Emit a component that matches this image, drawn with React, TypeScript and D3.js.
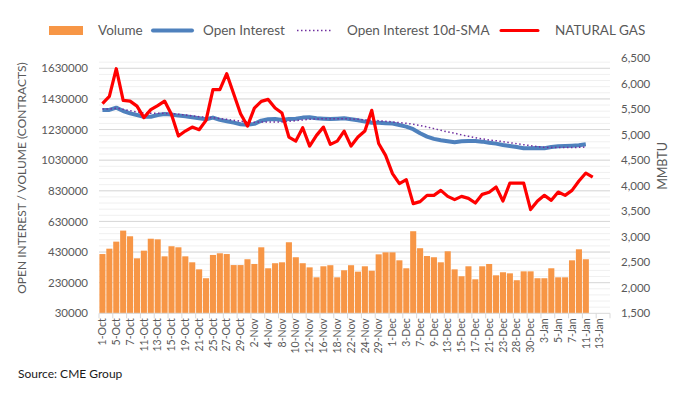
import React, { useEffect, useRef } from 'react';
import * as d3 from 'd3';

// trading days on the category axis (labels shown every other day)
const dates = [
  '1-Oct', '4-Oct', '5-Oct', '6-Oct', '7-Oct', '8-Oct', '11-Oct', '12-Oct', '13-Oct', '14-Oct',
  '15-Oct', '18-Oct', '19-Oct', '20-Oct', '21-Oct', '22-Oct', '25-Oct', '26-Oct', '27-Oct', '28-Oct',
  '29-Oct', '1-Nov', '2-Nov', '3-Nov', '4-Nov', '5-Nov', '8-Nov', '9-Nov', '10-Nov', '11-Nov',
  '12-Nov', '15-Nov', '16-Nov', '17-Nov', '18-Nov', '19-Nov', '22-Nov', '23-Nov', '24-Nov', '26-Nov',
  '29-Nov', '30-Nov', '1-Dec', '2-Dec', '3-Dec', '6-Dec', '7-Dec', '8-Dec', '9-Dec', '10-Dec',
  '13-Dec', '14-Dec', '15-Dec', '16-Dec', '17-Dec', '20-Dec', '21-Dec', '22-Dec', '23-Dec', '27-Dec',
  '28-Dec', '29-Dec', '30-Dec', '31-Dec', '3-Jan', '4-Jan', '5-Jan', '6-Jan', '7-Jan', '10-Jan',
  '11-Jan', '12-Jan', '13-Jan', '14-Jan',
];

const volume = [
  417000, 452000, 498000, 570000, 533000, 389000, 439000, 517000, 513000, 402000,
  468000, 461000, 402000, 363000, 317000, 259000, 411000, 422000, 417000, 345000,
  345000, 383000, 352000, 461000, 324000, 357000, 363000, 494000, 396000, 357000,
  330000, 265000, 337000, 344000, 265000, 311000, 344000, 302000, 337000, 308000,
  415000, 428000, 428000, 376000, 324000, 566000, 455000, 404000, 396000, 363000,
  435000, 317000, 272000, 337000, 252000, 337000, 352000, 278000, 298000, 291000,
  246000, 304000, 304000, 259000, 259000, 324000, 265000, 265000, 376000, 448000,
  383000,
];

const openInterest = [
  1358000, 1358000, 1373000, 1351000, 1336000, 1325000, 1314000, 1314000, 1325000, 1332000,
  1328000, 1321000, 1317000, 1310000, 1304000, 1297000, 1308000, 1293000, 1284000, 1275000,
  1265000, 1262000, 1267000, 1288000, 1297000, 1299000, 1293000, 1299000, 1301000, 1308000,
  1310000, 1304000, 1301000, 1299000, 1301000, 1304000, 1297000, 1291000, 1282000, 1275000,
  1275000, 1271000, 1269000, 1260000, 1249000, 1232000, 1206000, 1184000, 1169000, 1160000,
  1153000, 1147000, 1153000, 1155000, 1155000, 1151000, 1144000, 1138000, 1129000, 1123000,
  1116000, 1108000, 1108000, 1110000, 1108000, 1116000, 1121000, 1123000, 1125000, 1127000,
  1134000,
];

const oiSma = [
  1364000, 1364000, 1369000, 1362000, 1353000, 1345000, 1338000, 1336000, 1336000, 1336000,
  1334000, 1330000, 1325000, 1319000, 1314000, 1310000, 1308000, 1301000, 1297000, 1291000,
  1284000, 1280000, 1278000, 1280000, 1280000, 1280000, 1280000, 1284000, 1288000, 1293000,
  1297000, 1299000, 1301000, 1301000, 1301000, 1301000, 1299000, 1297000, 1293000, 1291000,
  1288000, 1284000, 1280000, 1275000, 1271000, 1265000, 1256000, 1247000, 1236000, 1225000,
  1214000, 1206000, 1195000, 1186000, 1177000, 1169000, 1162000, 1157000, 1151000, 1144000,
  1138000, 1131000, 1125000, 1118000, 1114000, 1112000, 1112000, 1112000, 1112000, 1114000,
  1116000,
];

const natGas = [
  5610, 5753, 6296, 5675, 5661, 5563, 5336, 5493, 5571, 5661,
  5400, 4975, 5073, 5151, 5100, 5283, 5884, 5884, 6198, 5806,
  5414, 5171, 5524, 5655, 5694, 5524, 5426, 4956, 4877, 5139,
  4779, 4989, 5151, 4812, 4877, 5073, 4779, 4956, 5073, 5479,
  4830, 4597, 4238, 4042, 4120, 3650, 3689, 3813, 3813, 3911,
  3793, 3728, 3793, 3754, 3662, 3832, 3872, 3976, 3701, 4054,
  4054, 4054, 3533, 3701, 3813, 3715, 3878, 3813, 3911, 4093,
  4250, 4172,
];

const leftTicks = [30000, 230000, 430000, 630000, 830000, 1030000, 1230000, 1430000, 1630000];
const rightTicks = [1500, 2000, 2500, 3000, 3500, 4000, 4500, 5000, 5500, 6000, 6500];

const legendItems = [
  { label: 'Volume', kind: 'bar' },
  { label: 'Open Interest', kind: 'oi' },
  { label: 'Open Interest 10d-SMA', kind: 'sma' },
  { label: 'NATURAL GAS', kind: 'ng' },
];

const FONT = 'Lato, "Open Sans", sans-serif';
const TEXT = '#595959';

const Chart = () => {
  const svgRef = useRef(null);

  useEffect(() => {
    const width = 687;
    const height = 395;
    const left = 99;
    const right = 610;
    const bottom = 313.3;

    const svg = d3.select(svgRef.current);
    svg.selectAll('*').remove();
    svg.attr('width', width).attr('height', height).style('font-family', FONT);

    const x = d3.scaleBand()
      .domain(dates)
      .range([left, right])
      .paddingInner(0.12)
      .paddingOuter(0.06);
    const cx = (d) => x(d) + x.bandwidth() / 2;

    const yL = d3.scaleLinear().domain([30000, 1630000]).range([bottom, 68.3]);
    const yR = d3.scaleLinear().domain([1500, 6500]).range([bottom, 58.3]);

    // gridlines: faint minor lines, slightly darker at the labelled ticks
    svg.append('g')
      .selectAll('line')
      .data(d3.range(70000, 1670001, 40000))
      .enter()
      .append('line')
      .attr('x1', left).attr('x2', right)
      .attr('y1', d => yL(d)).attr('y2', d => yL(d))
      .attr('stroke', '#f0f0f0')
      .attr('stroke-width', 1);

    svg.append('g')
      .selectAll('line')
      .data(leftTicks.slice(1))
      .enter()
      .append('line')
      .attr('x1', left).attr('x2', right)
      .attr('y1', d => yL(d)).attr('y2', d => yL(d))
      .attr('stroke', '#d9d9d9')
      .attr('stroke-width', 1);

    // volume bars
    svg.append('g')
      .selectAll('rect')
      .data(volume)
      .enter()
      .append('rect')
      .attr('x', (d, i) => x(dates[i]))
      .attr('y', d => yL(d))
      .attr('width', x.bandwidth())
      .attr('height', d => bottom - yL(d))
      .attr('fill', '#f79646');

    // category axis
    svg.append('line')
      .attr('x1', left).attr('x2', right)
      .attr('y1', bottom).attr('y2', bottom)
      .attr('stroke', '#d9d9d9');

    const step = x.step();
    svg.append('g')
      .selectAll('line')
      .data(d3.range(0, dates.length + 1, 2))
      .enter()
      .append('line')
      .attr('x1', i => left + i * step).attr('x2', i => left + i * step)
      .attr('y1', bottom).attr('y2', bottom + 5)
      .attr('stroke', '#d9d9d9');

    svg.append('g')
      .selectAll('text')
      .data(dates.filter((d, i) => i % 2 === 0))
      .enter()
      .append('text')
      .attr('transform', d => `translate(${cx(d)},${bottom + 5}) rotate(-90)`)
      .attr('text-anchor', 'end')
      .attr('dy', '0.35em')
      .attr('font-size', 10.5)
      .attr('fill', TEXT)
      .text(d => d);

    // lines
    const oiLine = d3.line()
      .x((d, i) => cx(dates[i]))
      .y(d => yL(d));
    const ngLine = d3.line()
      .x((d, i) => cx(dates[i]))
      .y(d => yR(d));

    svg.append('path')
      .datum(openInterest)
      .attr('d', oiLine)
      .attr('fill', 'none')
      .attr('stroke', '#4f81bd')
      .attr('stroke-width', 4)
      .attr('stroke-linejoin', 'round');

    svg.append('path')
      .datum(oiSma)
      .attr('d', oiLine)
      .attr('fill', 'none')
      .attr('stroke', '#7030a0')
      .attr('stroke-width', 1.5)
      .attr('stroke-dasharray', '1.5,2.5');

    svg.append('path')
      .datum(natGas)
      .attr('d', ngLine)
      .attr('fill', 'none')
      .attr('stroke', '#ff0000')
      .attr('stroke-width', 3.2)
      .attr('stroke-linejoin', 'round');

    // value axes
    const axL = svg.append('g')
      .attr('transform', 'translate(91,0)')
      .call(d3.axisLeft(yL).tickValues(leftTicks).tickFormat(d3.format('d')).tickSize(0).tickPadding(3));
    axL.select('.domain').remove();
    axL.selectAll('text').attr('font-size', 11.5).attr('fill', TEXT).attr('font-family', FONT);

    const axR = svg.append('g')
      .attr('transform', 'translate(618,0)')
      .call(d3.axisRight(yR).tickValues(rightTicks).tickFormat(d3.format(',')).tickSize(0).tickPadding(3));
    axR.select('.domain').remove();
    axR.selectAll('text').attr('font-size', 11.5).attr('fill', TEXT).attr('font-family', FONT);

    svg.append('text')
      .attr('transform', 'translate(22,178) rotate(-90)')
      .attr('text-anchor', 'middle')
      .attr('dy', '0.35em')
      .attr('font-size', 12)
      .attr('fill', TEXT)
      .text('OPEN INTEREST / VOLUME (CONTRACTS)');

    svg.append('text')
      .attr('transform', 'translate(663,166) rotate(-90)')
      .attr('text-anchor', 'middle')
      .attr('dy', '0.35em')
      .attr('font-size', 12.5)
      .attr('fill', TEXT)
      .text('MMBTU');

    // legend
    const legendX = [49, 153, 297, 501];
    const textX = [98, 203, 347, 555];
    const ly = 30.5;
    const lg = svg.append('g');
    legendItems.forEach((item, i) => {
      const x0 = legendX[i];
      if (item.kind === 'bar') {
        lg.append('rect').attr('x', x0).attr('y', ly - 4.5).attr('width', 34).attr('height', 9).attr('fill', '#f79646');
      } else if (item.kind === 'oi') {
        lg.append('line').attr('x1', x0).attr('x2', x0 + 39).attr('y1', ly).attr('y2', ly)
          .attr('stroke', '#4f81bd').attr('stroke-width', 4).attr('stroke-linecap', 'round');
      } else if (item.kind === 'sma') {
        lg.append('line').attr('x1', x0).attr('x2', x0 + 36).attr('y1', ly).attr('y2', ly)
          .attr('stroke', '#7030a0').attr('stroke-width', 1.5).attr('stroke-dasharray', '1.5,2.5');
      } else {
        lg.append('line').attr('x1', x0).attr('x2', x0 + 37).attr('y1', ly).attr('y2', ly)
          .attr('stroke', '#ff0000').attr('stroke-width', 3).attr('stroke-linecap', 'round');
      }
      lg.append('text')
        .attr('x', textX[i])
        .attr('y', ly)
        .attr('dy', '0.35em')
        .attr('font-size', 13.5)
        .attr('fill', TEXT)
        .text(item.label);
    });

    svg.append('text')
      .attr('x', 18)
      .attr('y', 374)
      .attr('dy', '0.35em')
      .attr('font-size', 12)
      .attr('fill', '#1a1a1a')
      .text('Source: CME Group');
  }, []);

  return <svg ref={svgRef} style={{ position: 'absolute', left: 0, top: 0 }}></svg>;
};

export default function App() {
  return <Chart />;
}
